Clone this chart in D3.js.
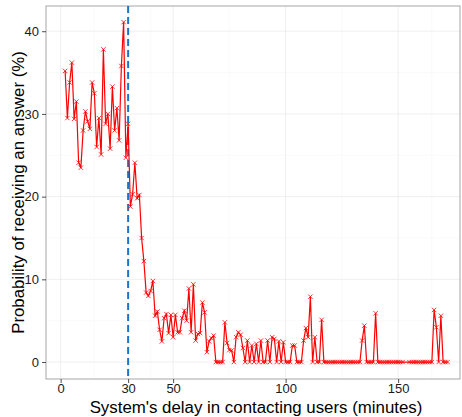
<!DOCTYPE html>
<html>
<head>
<meta charset="utf-8">
<script src="https://cdn.jsdelivr.net/npm/d3@7"></script>
<style>
  body { margin: 0; background: #fff; }
  text { font-family: "Liberation Sans", Arial, sans-serif; }
</style>
</head>
<body>
<svg width="462" height="417"></svg>
<script>
// delay (minutes) and probability of an answer (%)
const minutes = [
  2, 3, 4, 5, 6, 7, 8, 9, 10, 11, 12, 13, 14, 15, 16, 17, 18, 19, 20, 21,
  22, 23, 24, 25, 26, 27, 28, 29, 30, 31, 32, 33, 34, 35, 36, 37, 38, 39, 40, 41,
  42, 43, 44, 45, 46, 47, 48, 49, 50, 51, 52, 53, 54, 55, 56, 57, 58, 59, 60, 61,
  62, 63, 64, 65, 66, 67, 68, 69, 70, 71, 72, 73, 74, 75, 76, 77, 78, 79, 80, 81,
  82, 83, 84, 85, 86, 87, 88, 89, 90, 91, 92, 93, 94, 95, 96, 97, 98, 99, 100, 101,
  102, 103, 104, 105, 106, 107, 108, 109, 110, 111, 112, 113, 114, 115, 116, 117, 118, 119, 120, 121,
  122, 123, 124, 125, 126, 127, 128, 129, 130, 131, 132, 133, 134, 135, 136, 137, 138, 139, 140, 141,
  142, 143, 144, 145, 146, 147, 148, 149, 150, 151, 152, 155, 156, 157, 158, 159, 160, 161, 162, 163,
  164, 165, 166, 167, 168, 169, 170, 171, 172
];
const probability = [
  35.2, 29.5, 33.8, 36.2, 29.4, 31.5, 24.1, 23.5, 28.0, 30.3, 29.1, 28.2, 33.8, 32.5, 26.0, 29.5, 25.1, 37.8, 28.8, 30.0,
  25.8, 33.3, 28.0, 30.7, 26.8, 35.8, 41.1, 24.7, 28.8, 18.8, 20.3, 24.1, 19.8, 20.2, 15.0, 12.2, 8.4, 8.0, 8.6, 9.8,
  5.6, 6.1, 3.9, 2.5, 5.3, 5.8, 3.5, 5.7, 3.0, 5.7, 3.6, 3.6, 5.3, 6.2, 5.0, 8.9, 3.6, 9.4, 2.6, 3.4,
  3.5, 7.2, 6.0, 1.2, 2.5, 2.9, 3.2, 0, 0, 0, 0, 4.8, 2.3, 1.45, 1.4, 0, 3.0, 3.6, 3.3, 1.7,
  0, 2.6, 0, 2.0, 0, 2.2, 0, 2.6, 0, 0, 2.6, 0, 3.0, 2.8, 0, 2.5, 0, 2.4, 0, 0,
  0, 2.0, 2.0, 0, 0, 0, 2.6, 4.1, 3.0, 7.9, 0, 3.0, 0, 0, 5.1, 0, 0, 0, 0, 0,
  0, 0, 0, 0, 0, 0, 0, 0, 0, 0, 0, 0, 2.6, 4.4, 0, 0, 0, 0, 5.9, 0,
  0, 0, 0, 0, 0, 0, 0, 0, 0, 0, 0, 0, 0, 0, 0, 0, 0, 0, 0, 0,
  0, 0, 6.3, 4.2, 0, 5.6, 0, 0, 0
];
const xTicks = [0, 30, 50, 100, 150];
const xMinor = [15, 40, 75, 125, 165];
const yTicks = [0, 10, 20, 30, 40];
const yMinor = [5, 15, 25, 35];
const cutoff = 30;

const data = minutes.map((m, i) => ({ m: m, p: probability[i] }));

const svg = d3.select("svg");
const padLeft = 46, padRight = 460, padTop = 6, padBottom = 379;

const x = d3.scaleLinear().domain([-6.5, 177.5]).range([padLeft, padRight]);
const y = d3.scaleLinear().domain([-2.05, 43.05]).range([padBottom, padTop]);

// grid
const grid = svg.append("g");
grid.selectAll(".vmin").data(xMinor).enter().append("line")
    .attr("x1", d => x(d)).attr("x2", d => x(d))
    .attr("y1", padTop).attr("y2", padBottom)
    .attr("stroke", "#f7f7f7").attr("stroke-width", 0.6);
grid.selectAll(".hmin").data(yMinor).enter().append("line")
    .attr("x1", padLeft).attr("x2", padRight)
    .attr("y1", d => y(d)).attr("y2", d => y(d))
    .attr("stroke", "#f7f7f7").attr("stroke-width", 0.6);
grid.selectAll(".vmaj").data(xTicks).enter().append("line")
    .attr("x1", d => x(d)).attr("x2", d => x(d))
    .attr("y1", padTop).attr("y2", padBottom)
    .attr("stroke", "#ebebeb").attr("stroke-width", 0.8);
grid.selectAll(".hmaj").data(yTicks).enter().append("line")
    .attr("x1", padLeft).attr("x2", padRight)
    .attr("y1", d => y(d)).attr("y2", d => y(d))
    .attr("stroke", "#ebebeb").attr("stroke-width", 0.8);

// panel border
svg.append("rect")
    .attr("x", padLeft).attr("y", padTop)
    .attr("width", padRight - padLeft).attr("height", padBottom - padTop)
    .attr("fill", "none").attr("stroke", "#a6a6a6").attr("stroke-width", 1);

// axes
const xAxis = svg.append("g")
    .attr("transform", `translate(0,${padBottom})`)
    .call(d3.axisBottom(x).tickValues(xTicks).tickSize(4).tickPadding(1));
const yAxis = svg.append("g")
    .attr("transform", `translate(${padLeft},0)`)
    .call(d3.axisLeft(y).tickValues(yTicks).tickSize(4).tickPadding(3));
[xAxis, yAxis].forEach(a => {
  a.select(".domain").remove();
  a.selectAll(".tick line").attr("stroke", "#4d4d4d");
  a.selectAll(".tick text").attr("fill", "#1a1a1a").style("font-size", "13px");
});

// cutoff line
svg.append("line")
    .attr("x1", x(cutoff)).attr("x2", x(cutoff))
    .attr("y1", padTop).attr("y2", padBottom)
    .attr("stroke", "#1874cd").attr("stroke-width", 2)
    .attr("stroke-dasharray", "7,4");

// series line
svg.append("path")
    .datum(data)
    .attr("fill", "none")
    .attr("stroke", "#ff0000")
    .attr("stroke-width", 1.2)
    .attr("d", d3.line().x(d => x(d.m)).y(d => y(d.p)));

// cross markers
svg.append("g").selectAll("path")
    .data(data)
    .enter().append("path")
    .attr("transform", d => `translate(${x(d.m)},${y(d.p)})`)
    .attr("d", "M-2.2,-2.2L2.2,2.2M-2.2,2.2L2.2,-2.2")
    .attr("stroke", "#ff0000")
    .attr("stroke-width", 0.8)
    .attr("fill", "none");

// titles, sized so the x title spans roughly the same width as in the picture
const xTitle = svg.append("text")
    .attr("x", (padLeft + padRight) / 2 + 3).attr("y", 413)
    .attr("text-anchor", "middle")
    .style("font-size", "16px")
    .attr("fill", "#000")
    .text("System's delay in contacting users (minutes)");
const fs = Math.max(14, Math.min(18, 16 * 333 / xTitle.node().getComputedTextLength()));
xTitle.style("font-size", fs + "px");

svg.append("text")
    .attr("transform", `translate(24,${(padTop + padBottom) / 2}) rotate(-90)`)
    .attr("text-anchor", "middle")
    .style("font-size", fs + "px")
    .attr("fill", "#000")
    .text("Probability of receiving an answer (%)");
</script>
</body>
</html>
